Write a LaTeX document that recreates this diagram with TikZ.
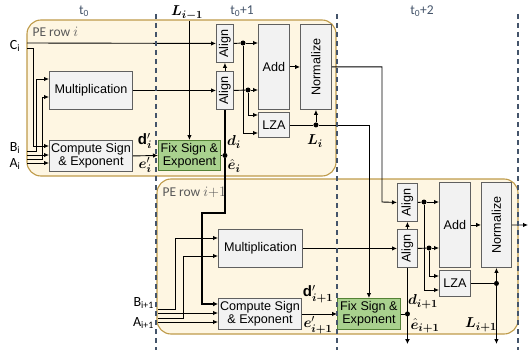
\documentclass[tikz,border=0pt]{standalone}
\usepackage{amsmath,bm}
\usepackage{fontspec}
\setmainfont{Liberation Sans}
\newfontfamily\calfont{Carlito}
\usetikzlibrary{arrows.meta, positioning, calc}

\definecolor{rowfill}{HTML}{FEF6E2}
\definecolor{rowborder}{HTML}{BF9B4A}
\definecolor{blkfill}{HTML}{F2F2F2}
\definecolor{blkborder}{HTML}{606060}
\definecolor{fixfill}{HTML}{A9D18E}
\definecolor{fixborder}{HTML}{548235}
\definecolor{tcol}{HTML}{44546A}
\definecolor{rowtext}{HTML}{595959}

\tikzset{
  blk/.style={draw=blkborder, fill=blkfill, line width=0.9pt, inner sep=0pt,
    font=\fontsize{12.6}{14}\selectfont, align=center, anchor=north west},
  fixblk/.style={blk, draw=fixborder, fill=fixfill},
  rowbox/.style={draw=rowborder, fill=rowfill, line width=1.1pt, rounded corners=14pt},
  wire/.style={line width=0.9pt, -{Latex[length=5pt,width=4.5pt]}},
  plain/.style={line width=0.9pt},
  bus/.style={line width=1.6pt},
  junc/.style={circle, fill=black, inner sep=0pt, minimum size=5pt},
  stage/.style={draw=tcol, line width=1.3pt, dash pattern=on 5pt off 4pt},
  tlabel/.style={font=\calfont\fontsize{13.5}{15}\selectfont, text=tcol},
  rowlabel/.style={font=\calfont\fontsize{13.5}{15}\selectfont, text=rowtext, anchor=west},
  inlabel/.style={font=\calfont\fontsize{14}{15}\selectfont, inner sep=0pt},
  sig/.style={font=\fontsize{15}{17}\selectfont, inner sep=0pt},
}

\begin{document}
\begin{tikzpicture}[x=1pt, y=-1pt]
  \useasboundingbox (0,0) rectangle (529,350);

  % ===== PE ROWS =====
  \draw[rowbox] (27,20) rectangle (336,176);
  \draw[rowbox] (157,179) rectangle (518,334);
  \node[rowlabel] (rowi) at (29,32) {PE row $i$};
  \node[rowlabel] (rowj) at (159,192) {PE row $i{+}1$};

  % ===== ROW i =====
  \node[blk, minimum width=83pt, minimum height=38pt] (mult) at (49,71) {Multiplication};
  \node[blk, minimum width=83pt, minimum height=31pt] (csign) at (49,140) {Compute Sign\\[-1pt]\& Exponent};
  \node[fixblk, minimum width=62pt, minimum height=30pt] (fix) at (158,140) {Fix Sign \&\\[-1pt]Exponent};
  \node[blk, minimum width=17pt, minimum height=38pt] (alignA) at (216,24) {\rotatebox{90}{Align}};
  \node[blk, minimum width=17pt, minimum height=38pt] (alignB) at (216,71) {\rotatebox{90}{Align}};
  \node[blk, minimum width=31pt, minimum height=85pt] (add) at (258,24) {Add};
  \node[blk, minimum width=31pt, minimum height=85pt] (norm) at (300,24) {\rotatebox{90}{Normalize}};
  \node[blk, minimum width=31pt, minimum height=25pt] (lza) at (258,112) {LZA};

  % inputs
  \node[inlabel] (ci) at (15,46) {C\textsubscript{i}};
  \node[inlabel] (bi) at (15,148) {B\textsubscript{i}};
  \node[inlabel] (ai) at (15,164) {A\textsubscript{i}};
  \coordinate (cin) at (27,43);
  \draw[wire] (cin) -- (alignA.west);
  \draw[wire] (27,48) -| (33,146) -- (csign.west |- 0,146);
  \draw[wire] (27,151) -| (36,79) -- (mult.west |- 0,79);
  \draw[wire] (27,155) -- (csign.west |- 0,155);
  \draw[wire] (27,159) -| (42,97) -- (mult.west |- 0,97);
  \draw[wire] (27,163) -- (csign.west |- 0,163);

  % datapath
  \node[sig] (lprevlbl) at (187,13) {$\bm{L_{i-1}}$};
  \draw[wire] (fix.north |- 0,21) -- (fix.north);
  \draw[wire] (mult.east) -- (alignB.west);
  \draw[wire] (csign.east) -- (fix.west);
  \node[sig] (dpi) at (145,141) {$\mathbf{d}'_{\bm{i}}$};
  \node[sig] (epi) at (145,165) {$\bm{e}'_{\bm{i}}$};
  \draw[wire] (alignB.north) -- (alignA.south);
  \node[junc] (dotA) at (243,43) {};
  \node[junc] (dotB) at (248,90) {};
  \draw[plain] (alignA.east) -- (dotA);
  \draw[wire] (dotA) -- (dotA -| add.west);
  \draw[plain] (alignB.east) -- (dotB);
  \draw[wire] (dotB) -- (dotB -| add.west);
  \draw[wire] (dotA) |- (lza.west |- 0,133);
  \draw[wire] (dotB) |- (lza.west |- 0,115);
  \draw[wire] (add.east) -- (norm.west);
  \node[junc] (dotL) at (norm.south |- lza.east) {};
  \draw[plain] (lza.east) -- (dotL);
  \draw[wire] (dotL) -- (norm.south);
  \node[sig] (li) at (315,141) {$\bm{L}_{\bm{i}}$};
  \node[junc] (dotE) at (alignB.south |- fix.east) {};
  \draw[plain] (fix.east) -- (dotE);
  \node[sig] (di) at (234,142) {$\bm{d}_{\bm{i}}$};
  \node[sig] (ehi) at (234,166) {$\bm{\hat{e}}_{\bm{i}}$};

  % ===== ROW i+1 =====
  \node[blk, minimum width=84pt, minimum height=38pt] (multn) at (218,229) {Multiplication};
  \node[blk, minimum width=83pt, minimum height=31pt] (csignn) at (218,298) {Compute Sign\\[-1pt]\& Exponent};
  \node[fixblk, minimum width=63pt, minimum height=31pt] (fixn) at (337,298) {Fix Sign \&\\[-1pt]Exponent};
  \node[blk, minimum width=20pt, minimum height=38pt] (alignAn) at (397,183) {\rotatebox{90}{Align}};
  \node[blk, minimum width=20pt, minimum height=38pt] (alignBn) at (397,229) {\rotatebox{90}{Align}};
  \node[blk, minimum width=31pt, minimum height=85pt] (addn) at (439,182) {Add};
  \node[blk, minimum width=30pt, minimum height=85pt] (normn) at (481,182) {\rotatebox{90}{Normalize}};
  \node[blk, minimum width=31pt, minimum height=26pt] (lzan) at (439,270) {LZA};

  % inputs
  \node[inlabel, anchor=east] (bn) at (154,303) {B\textsubscript{i+1}};
  \node[inlabel, anchor=east] (an) at (154,323) {A\textsubscript{i+1}};
  \draw[wire] (158,309) -| (175,238) -- (multn.west |- 0,238);
  \draw[wire] (158,313) -- (csignn.west |- 0,313);
  \draw[wire] (158,318) -| (183,256) -- (multn.west |- 0,256);
  \draw[wire] (158,322) -- (csignn.west |- 0,322);

  % datapath
  \draw[wire] (multn.east) -- (alignBn.west);
  \draw[wire] (csignn.east) -- (fixn.west);
  \node[sig] (dpn) at (318,294) {$\mathbf{d}'_{\bm{i+1}}$};
  \node[sig] (epn) at (318,325) {$\bm{e}'_{\bm{i+1}}$};
  \draw[wire] (alignBn.north) -- (alignAn.south);
  \node[junc] (dotAn) at (424,202) {};
  \node[junc] (dotBn) at (429,248) {};
  \draw[plain] (alignAn.east) -- (dotAn);
  \draw[wire] (dotAn) -- (dotAn -| addn.west);
  \draw[plain] (alignBn.east) -- (dotBn);
  \draw[wire] (dotBn) -- (dotBn -| addn.west);
  \draw[wire] (dotAn) |- (lzan.west |- 0,290);
  \draw[wire] (dotBn) |- (lzan.west |- 0,276);
  \draw[wire] (addn.east) -- (normn.west);
  \node[junc] (dotLn) at (normn.south |- lzan.east) {};
  \draw[plain] (lzan.east) -- (dotLn);
  \draw[wire] (dotLn) -- (normn.south);
  \coordinate (lout) at (dotLn |- 0,344);
  \draw[wire] (dotLn) -- (lout);
  \node[sig] (ln) at (481,325) {$\bm{L}_{\bm{i+1}}$};
  \node[junc] (dotEn) at (alignBn.south |- fixn.east) {};
  \draw[plain] (fixn.east) -- (dotEn);
  \coordinate (eout) at (alignBn.south |- 0,344);
  \draw[bus, -{Latex[length=5pt,width=5pt]}] (alignBn.south) -- (eout);
  \node[sig] (dn) at (423,302) {$\bm{d}_{\bm{i+1}}$};
  \node[sig] (ehn) at (425,326) {$\bm{\hat{e}}_{\bm{i+1}}$};
  \coordinate (nout) at (528,225);
  \draw[wire] (normn.east) -- (nout);

  % ===== ROW i -> ROW i+1 =====
  \draw[bus, -{Latex[length=5pt,width=5pt]}] (alignB.south) -- (dotE) -- (dotE |- 0,213) -| (202,304) -- (csignn.west |- 0,304);
  \draw[wire] (norm.east) -| (382,202) -- (alignAn.west);
  \draw[wire] (dotL) -| (fixn.north);

  % ===== TIME STAGES =====
  \foreach \xs in {156,337,518}
    \draw[stage] (\xs,14) -- (\xs,350);
  \node[tlabel] (ta) at (84,11) {t\textsubscript{0}};
  \node[tlabel] (tb) at (242,11) {t\textsubscript{0}+1};
  \node[tlabel] (tc) at (422,11) {t\textsubscript{0}+2};
\end{tikzpicture}
\end{document}
